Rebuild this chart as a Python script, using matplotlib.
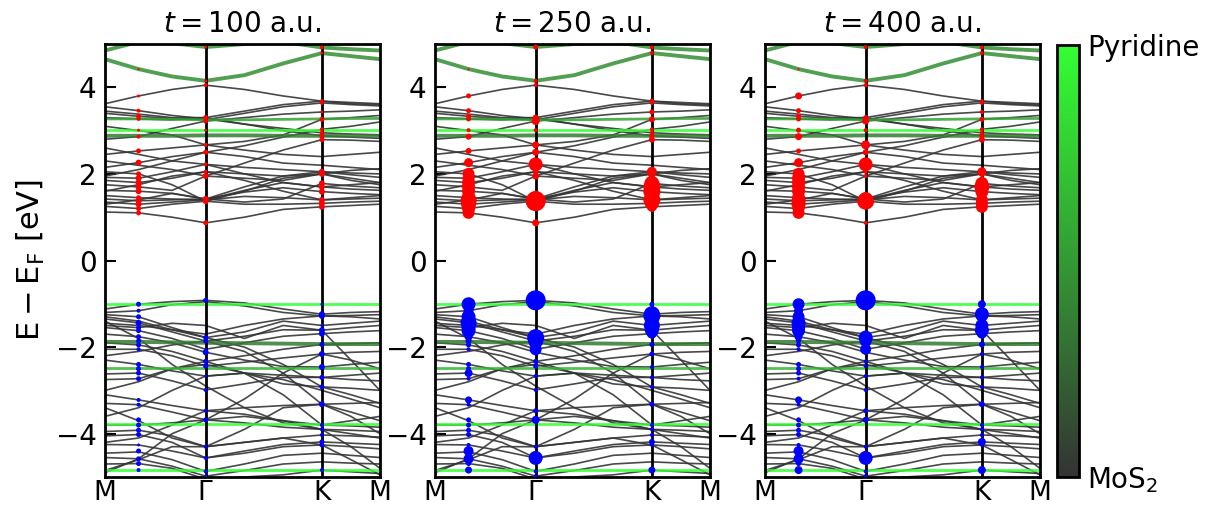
import numpy as np
import matplotlib
matplotlib.use("Agg")
import matplotlib.pyplot as plt
from matplotlib.colors import LinearSegmentedColormap
from matplotlib.colorbar import ColorbarBase

# ---------------- data ----------------
kpath_labels = ["M", r"$\Gamma$", "K", "M"]
kpath_ticks = [0.0, 0.5774, 1.2440, 1.5774]
# band sampling nodes: M, Q, 2Q, Gamma, GK1, GK2, K, KM, M
k_nodes = [0.0, 0.1925, 0.3849, 0.5774, 0.7996, 1.0218, 1.2440, 1.4107, 1.5774]
k_Q, k_G, k_K = 0.1925, 0.5774, 1.2440

titles = [r"$t = 100$ a.u.", r"$t = 250$ a.u.", r"$t = 400$ a.u."]

# MoS2-like (gray) bands
gray_bands = [
    [1.12, 1.10, 1.00, 0.87, 1.00, 1.18, 1.24, 1.27, 1.30],
    [1.25, 1.20, 1.30, 1.37, 1.30, 1.30, 1.32, 1.35, 1.37],
    [1.35, 1.30, 1.35, 1.40, 1.48, 1.45, 1.40, 1.42, 1.44],
    [1.42, 1.38, 1.40, 1.42, 1.58, 1.68, 1.59, 1.55, 1.52],
    [1.50, 1.45, 1.42, 1.40, 1.62, 1.80, 1.70, 1.65, 1.62],
    [1.62, 1.60, 1.55, 1.42, 1.35, 1.42, 1.78, 1.72, 1.68],
    [1.75, 1.70, 1.62, 1.95, 1.90, 1.85, 2.00, 1.90, 1.80],
    [1.85, 1.80, 1.90, 2.05, 2.00, 1.95, 2.05, 1.98, 1.92],
    [1.92, 1.90, 2.05, 2.22, 2.15, 2.10, 2.05, 2.02, 2.00],
    [2.05, 2.00, 1.75, 1.37, 1.60, 1.90, 2.00, 2.08, 2.12],
    [2.15, 2.26, 2.40, 2.50, 2.40, 2.25, 2.20, 2.15, 2.10],
    [2.45, 2.53, 2.60, 2.67, 2.55, 2.45, 2.40, 2.45, 2.50],
    [2.30, 2.20, 2.10, 1.95, 2.25, 2.55, 2.79, 2.78, 2.75],
    [2.80, 2.86, 3.05, 3.22, 3.30, 3.38, 3.43, 3.45, 3.48],
    [3.30, 3.27, 3.25, 3.30, 3.15, 3.05, 2.95, 2.92, 2.90],
    [3.40, 3.33, 3.28, 3.25, 3.40, 3.55, 3.64, 3.60, 3.57],
    [3.55, 3.46, 3.35, 3.27, 3.15, 3.00, 2.88, 2.85, 2.82],
    [3.62, 3.80, 3.95, 4.05, 3.95, 3.80, 3.68, 3.62, 3.60],
    [2.60, 2.45, 2.30, 2.50, 2.65, 2.85, 3.03, 3.10, 3.20],
    [1.30, 1.40, 1.55, 1.42, 1.70, 1.95, 2.00, 1.85, 1.75],
    [1.95, 2.10, 2.30, 2.22, 2.00, 1.80, 1.70, 1.75, 1.80],
    [3.10, 3.00, 2.90, 2.67, 2.75, 2.90, 3.26, 3.30, 3.35],
    [3.45, 3.38, 3.30, 3.30, 3.45, 3.60, 3.68, 3.65, 3.62],
    [1.60, 1.75, 1.95, 2.05, 1.85, 1.60, 1.40, 1.45, 1.50],
    [-1.12, -1.01, -0.95, -0.92, -0.98, -1.12, -1.24, -1.20, -1.18],
    [-1.20, -1.16, -1.02, -0.95, -1.05, -1.20, -1.28, -1.27, -1.25],
    [-1.25, -1.30, -1.55, -1.78, -1.65, -1.40, -1.50, -1.45, -1.40],
    [-1.35, -1.44, -1.65, -1.86, -1.75, -1.60, -1.61, -1.55, -1.50],
    [-1.55, -1.62, -1.80, -2.05, -1.90, -1.75, -1.69, -1.65, -1.62],
    [-1.70, -1.76, -1.90, -2.12, -2.30, -2.45, -2.46, -2.40, -2.35],
    [-1.90, -1.95, -2.10, -2.33, -2.20, -2.05, -1.94, -1.92, -1.90],
    [-2.05, -2.05, -2.20, -2.44, -2.35, -2.25, -2.16, -2.12, -2.10],
    [-2.30, -2.40, -2.55, -2.67, -2.60, -2.65, -2.70, -2.65, -2.60],
    [-2.62, -2.60, -2.78, -2.99, -2.85, -2.70, -2.70, -2.75, -2.78],
    [-2.75, -2.73, -2.50, -2.40, -2.60, -2.85, -2.92, -2.95, -3.00],
    [-3.10, -3.22, -3.35, -3.47, -3.40, -3.35, -3.32, -3.30, -3.28],
    [-3.30, -3.33, -3.50, -3.68, -3.60, -3.70, -3.80, -3.82, -3.85],
    [-1.40, -1.80, -2.40, -2.90, -3.40, -3.75, -3.90, -4.30, -4.80],
    [-4.90, -4.58, -4.00, -3.68, -3.20, -2.60, -2.16, -2.30, -2.50],
    [-1.50, -1.55, -1.45, -1.50, -1.80, -1.50, -1.61, -2.30, -3.00],
    [-3.80, -3.80, -3.75, -3.68, -3.75, -3.85, -3.90, -3.92, -3.95],
    [-3.95, -3.92, -4.05, -4.30, -4.20, -4.10, -4.03, -4.05, -4.08],
    [-4.05, -4.02, -4.20, -4.56, -4.40, -4.25, -4.19, -4.22, -4.25],
    [-4.25, -4.26, -4.40, -4.56, -4.45, -4.30, -4.26, -4.30, -4.35],
    [-4.45, -4.42, -4.60, -4.87, -4.70, -4.50, -4.45, -4.50, -4.55],
    [-4.55, -4.58, -4.75, -4.98, -4.85, -4.70, -4.65, -4.68, -4.70],
    [-4.70, -4.69, -4.80, -5.05, -5.00, -4.95, -4.84, -4.88, -4.92],
    [-3.40, -3.70, -4.10, -4.30, -3.90, -3.40, -3.32, -3.60, -4.00],
    [-1.30, -1.40, -1.60, -1.78, -2.00, -2.40, -2.92, -3.10, -3.30],
    [-2.20, -2.10, -1.95, -1.86, -2.10, -2.60, -3.32, -3.50, -3.70],
    [-3.00, -2.80, -2.50, -2.33, -2.60, -3.10, -3.80, -3.70, -3.60],
    [-3.60, -3.40, -3.00, -2.67, -2.60, -2.75, -3.00, -3.20, -3.40],
    [-4.20, -4.10, -3.80, -3.47, -3.55, -3.70, -3.90, -4.00, -4.10],
    [-1.45, -1.50, -1.60, -1.70, -1.50, -1.35, -1.28, -1.30, -1.35],
    [-4.85, -4.60, -4.30, -4.30, -4.20, -4.10, -4.26, -4.60, -4.95],
]

# pyridine-weighted bands and their weights (0 = MoS2, 1 = Pyridine)
green_bands = [
    [4.85, 5.05, 5.02, 4.93, 5.00, 5.05, 4.92, 4.88, 4.85],
    [4.65, 4.42, 4.25, 4.15, 4.28, 4.55, 4.79, 4.72, 4.65],
    [3.01, 3.01, 3.01, 3.01, 3.01, 3.01, 3.01, 3.01, 3.01],
    [3.27, 3.27, 3.26, 3.25, 3.25, 3.26, 3.27, 3.28, 3.28],
    [2.88, 2.88, 2.88, 2.89, 2.89, 2.88, 2.88, 2.88, 2.88],
    [-1.00, -1.00, -1.00, -1.00, -1.00, -1.00, -1.00, -1.00, -1.00],
    [-1.88, -1.88, -1.89, -1.90, -1.91, -1.92, -1.93, -1.93, -1.93],
    [-2.48, -2.48, -2.48, -2.48, -2.48, -2.48, -2.48, -2.48, -2.48],
    [-3.78, -3.78, -3.78, -3.78, -3.78, -3.78, -3.78, -3.78, -3.78],
    [-4.84, -4.84, -4.84, -4.84, -4.84, -4.84, -4.84, -4.84, -4.84],
]
green_weights = [0.45, 0.45, 1.0, 0.55, 0.35, 1.0, 0.35, 0.65, 1.0, 1.0]

# projected conduction (red) and valence (blue) state energies at Q, Gamma, K
Q_c_E = [1.10, 1.20, 1.30, 1.38, 1.45, 1.60, 1.70, 1.80, 1.90, 2.00, 2.26, 2.53, 2.86, 3.01, 3.27, 3.33, 3.46, 3.80, 4.42]
G_c_E = [0.87, 1.37, 1.42, 1.95, 2.05, 2.22, 2.50, 2.67, 3.01, 3.22, 3.30, 4.05, 4.15, 4.93]
K_c_E = [1.24, 1.32, 1.40, 1.59, 1.70, 1.78, 2.00, 2.05, 2.79, 2.88, 2.95, 3.03, 3.26, 3.43, 3.64, 3.68, 4.79, 4.92]
Q_v_E = [-1.01, -1.16, -1.30, -1.44, -1.55, -1.62, -1.76, -1.86, -1.95, -2.05, -2.40, -2.50, -2.60, -2.73,
         -3.22, -3.33, -3.68, -3.80, -3.92, -4.02, -4.26, -4.40, -4.58, -4.69, -4.84]
G_v_E = [-0.92, -1.78, -1.86, -2.05, -2.12, -2.33, -2.44, -2.67, -2.99, -3.47, -3.68, -4.30, -4.56, -4.87, -4.98]
K_v_E = [-1.01, -1.24, -1.28, -1.50, -1.61, -1.69, -1.94, -2.16, -2.46, -2.70, -2.92, -3.32, -3.80, -3.90,
         -4.03, -4.19, -4.26, -4.84]

# weights (percent) for each panel
Q_c_w = [[25, 25, 30, 30, 25, 30, 30, 30, 30, 25, 30, 25, 20, 15, 20, 25, 20, 15, 10],
         [60, 65, 75, 80, 70, 65, 65, 65, 60, 60, 45, 30, 30, 20, 25, 25, 25, 25, 10],
         [60, 60, 70, 70, 65, 65, 65, 65, 65, 60, 45, 25, 35, 25, 25, 25, 25, 35, 10]]
G_c_w = [[25, 30, 30, 30, 20, 20, 25, 20, 15, 25, 25, 20, 15, 15],
         [35, 100, 80, 35, 25, 70, 35, 35, 20, 40, 30, 20, 20, 25],
         [20, 85, 70, 20, 20, 70, 30, 45, 20, 35, 25, 20, 20, 20]]
K_c_w = [[30, 30, 30, 30, 30, 30, 30, 30, 25, 25, 20, 20, 25, 15, 20, 20, 15, 20],
         [50, 70, 85, 85, 85, 75, 40, 50, 30, 25, 20, 20, 30, 25, 20, 25, 20, 20],
         [60, 60, 60, 65, 75, 65, 30, 45, 30, 25, 20, 20, 25, 20, 20, 20, 20, 20]]
Q_v_w = [[25, 20, 25, 30, 25, 25, 25, 25, 25, 20, 25, 25, 25, 25, 20, 20, 25, 25, 25, 25, 15, 25, 25, 25, 20],
         [70, 50, 70, 80, 70, 70, 40, 30, 25, 20, 25, 25, 40, 20, 35, 20, 25, 25, 25, 25, 20, 50, 50, 25, 35],
         [60, 45, 60, 70, 65, 65, 40, 25, 25, 20, 25, 25, 25, 20, 35, 20, 25, 25, 25, 25, 20, 50, 50, 25, 40]]
G_v_w = [[25, 25, 25, 15, 30, 25, 25, 15, 20, 20, 25, 20, 20, 20, 15],
         [100, 85, 75, 60, 30, 25, 25, 20, 20, 25, 40, 20, 70, 20, 20],
         [100, 70, 60, 55, 25, 20, 20, 20, 20, 25, 30, 20, 70, 20, 20]]
K_v_w = [[15, 30, 30, 15, 30, 30, 25, 30, 30, 25, 25, 30, 20, 20, 20, 25, 25, 20],
         [25, 80, 85, 80, 70, 50, 25, 25, 20, 20, 20, 25, 20, 20, 20, 30, 20, 35],
         [40, 70, 60, 65, 70, 50, 30, 20, 20, 20, 20, 30, 20, 20, 20, 40, 20, 40]]

# ---------------- plotting ----------------
plt.rcParams["font.family"] = ["DejaVu Sans"]
plt.rcParams["mathtext.fontset"] = "dejavusans"

cmap = LinearSegmentedColormap.from_list("mos2_pyr", ["#333333", "#33ff33"])

fig = plt.figure(figsize=(12.2, 5.07), dpi=100)
H = 507.0
W = 1220.0
ax_b, ax_t = 477, 44
lefts = [105, 435, 765]
width = 275
FS = 20


def msize(w):
    d_px = np.asarray(w) / 100.0 * 20.0
    return (d_px / (100.0 / 72.0)) ** 2


for p in range(3):
    ax = fig.add_axes([lefts[p] / W, 1 - ax_b / H, width / W, (ax_b - ax_t) / H])
    for band in gray_bands:
        ax.plot(k_nodes, band, color="#353535", lw=1.2, alpha=0.9, zorder=2)
    for band, gw in zip(green_bands, green_weights):
        lw = 2.8 if gw < 0.5 else 2.0
        ax.plot(k_nodes, band, color=cmap(gw), lw=lw, alpha=0.85, zorder=2.5)
    for kx in (k_G, k_K):
        ax.axvline(kx, color="black", lw=2.0, zorder=3)

    for kx, E, w in ((k_Q, Q_c_E, Q_c_w[p]), (k_G, G_c_E, G_c_w[p]), (k_K, K_c_E, K_c_w[p])):
        ax.scatter(np.full(len(E), kx), E, s=msize(w), color="#ff0000", edgecolors="none", zorder=4)
    for kx, E, w in ((k_Q, Q_v_E, Q_v_w[p]), (k_G, G_v_E, G_v_w[p]), (k_K, K_v_E, K_v_w[p])):
        ax.scatter(np.full(len(E), kx), E, s=msize(w), color="#0000ff", edgecolors="none", zorder=4)

    ax.set_xlim(kpath_ticks[0], kpath_ticks[-1])
    ax.set_ylim(-5, 5)
    ax.set_xticks(kpath_ticks)
    ax.set_xticklabels(kpath_labels, fontsize=FS)
    ax.set_yticks([-4, -2, 0, 2, 4])
    ax.tick_params(axis="y", direction="in", length=8, width=1.5, labelsize=FS, pad=6)
    ax.tick_params(axis="x", length=0, labelsize=FS - 1, pad=2)
    for sp in ax.spines.values():
        sp.set_linewidth(2.0)
    ax.set_title(titles[p], fontsize=FS, pad=9)
    if p == 0:
        ax.set_ylabel(r"$\mathrm{E-E_F}$ [eV]", fontsize=22, labelpad=6)

cax = fig.add_axes([1057 / W, 1 - ax_b / H, 22 / W, (ax_b - 45) / H])
cb = ColorbarBase(cax, cmap=cmap, orientation="vertical")
cb.set_ticks([0, 1])
cb.set_ticklabels([r"MoS$_2$", "Pyridine"])
cb.ax.tick_params(length=0, labelsize=FS, pad=6)
cb.outline.set_linewidth(2.0)

fig.savefig("out.png", dpi=100)
